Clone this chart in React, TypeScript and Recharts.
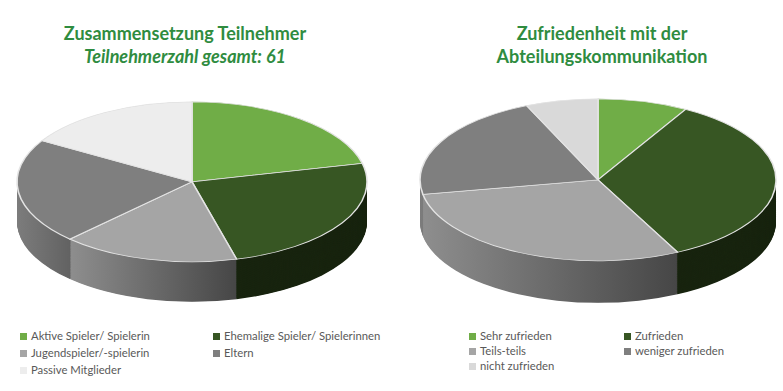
import { PieChart, Pie, Cell } from 'recharts';

const teilnehmerLabels = [
  'Aktive Spieler/ Spielerin',
  'Ehemalige Spieler/ Spielerinnen',
  'Jugendspieler/-spielerin',
  'Eltern',
  'Passive Mitglieder',
];
const teilnehmerValues = [13, 15, 10, 13, 10];
const teilnehmerColors = ['#70AD47', '#375623', '#A5A5A5', '#7F7F7F', '#EDEDED'];

const zufriedenLabels = [
  'Sehr zufrieden',
  'Zufrieden',
  'Teils-teils',
  'weniger zufrieden',
  'nicht zufrieden',
];
const zufriedenValues = [5, 21, 18, 13, 4];
const zufriedenColors = ['#70AD47', '#375623', '#A5A5A5', '#7F7F7F', '#D9D9D9'];

const TITLE_COLOR = '#2F8C3F';
const FONT = 'Lato, "Open Sans", sans-serif';

type PieProps = {
  id: string;
  labels: string[];
  values: number[];
  colors: string[];
  cx: number;
  cy: number;
  rx: number;
  ry: number;
  depth: number;
};

// fake excel 3d pie: stack darker copies below, squash vertically
function Pie3D({ id, labels, values, colors, cx, cy, rx, ry, depth }: PieProps) {
  const s = ry / rx;
  const R = rx;
  const cyU = R + 4;
  const depthU = depth / s;
  const width = 2 * R + 20;
  const chartCx = R + 10;
  const heightU = cyU + R + depthU + 8;
  const data = labels.map((name, i) => ({ name, value: values[i] }));

  const sideFills = [
    '#4E7A32',
    '#18240F',
    `url(#${id}-gray)`,
    `url(#${id}-dark)`,
    '#9a9a9a',
  ];

  const offsets: number[] = [];
  for (let d = depthU; d > 0; d -= 1.5) offsets.push(d);

  return (
    <div
      style={{
        position: 'absolute',
        left: cx - chartCx,
        top: cy - cyU * s,
        width,
        height: heightU,
        transform: `scaleY(${s})`,
        transformOrigin: '0 0',
      }}
    >
      <PieChart width={width} height={heightU} margin={{ top: 0, right: 0, bottom: 0, left: 0 }}>
        <defs>
          <linearGradient id={`${id}-gray`} x1="0" y1="0" x2="1" y2="0">
            <stop offset="0%" stopColor="#8E8E8E" />
            <stop offset="100%" stopColor="#464646" />
          </linearGradient>
          <linearGradient id={`${id}-dark`} x1="0" y1="0" x2="1" y2="0">
            <stop offset="0%" stopColor="#7C7C7C" />
            <stop offset="35%" stopColor="#5E5E5E" />
            <stop offset="100%" stopColor="#444444" />
          </linearGradient>
        </defs>
        {offsets.map((d) => (
          <Pie
            key={`side-${d}`}
            data={data}
            dataKey="value"
            cx={chartCx}
            cy={cyU + d}
            outerRadius={R}
            startAngle={90}
            endAngle={-270}
            stroke="none"
            isAnimationActive={false}
          >
            {data.map((entry, i) => (
              <Cell key={entry.name} fill={sideFills[i]} />
            ))}
          </Pie>
        ))}
        <Pie
          data={data}
          dataKey="value"
          cx={chartCx}
          cy={cyU}
          outerRadius={R}
          startAngle={90}
          endAngle={-270}
          stroke="#E4E4E4"
          strokeWidth={1.6}
          isAnimationActive={false}
        >
          {data.map((entry, i) => (
            <Cell key={entry.name} fill={colors[i]} />
          ))}
        </Pie>
      </PieChart>
    </div>
  );
}

function Legend({
  labels,
  colors,
  left,
  top,
  col2,
  rowGap,
}: {
  labels: string[];
  colors: string[];
  left: number;
  top: number;
  col2: number;
  rowGap: number;
}) {
  return (
    <>
      {labels.map((label, i) => (
        <div
          key={label}
          style={{
            position: 'absolute',
            left: left + (i % 2) * col2,
            top: top + Math.floor(i / 2) * rowGap,
            display: 'flex',
            alignItems: 'center',
            fontFamily: FONT,
            fontSize: 11.3,
            color: '#595959',
            whiteSpace: 'nowrap',
            lineHeight: '14px',
          }}
        >
          <span
            style={{
              display: 'inline-block',
              width: 7,
              height: 7,
              background: colors[i],
              marginRight: 4,
            }}
          />
          {label}
        </div>
      ))}
    </>
  );
}

export default function App() {
  const titleStyle = {
    position: 'absolute' as const,
    width: 370,
    textAlign: 'center' as const,
    fontFamily: FONT,
    fontWeight: 700,
    fontSize: 18,
    lineHeight: '23px',
    color: TITLE_COLOR,
  };
  return (
    <div
      style={{
        position: 'absolute',
        left: 0,
        top: 0,
        width: 783,
        height: 391,
        background: '#fff',
        overflow: 'hidden',
      }}
    >
      <div style={{ ...titleStyle, left: 0, top: 22 }}>
        <div>Zusammensetzung Teilnehmer</div>
        <div style={{ fontStyle: 'italic' }}>Teilnehmerzahl gesamt: 61</div>
      </div>
      <div style={{ ...titleStyle, left: 417, top: 22 }}>
        <div>Zufriedenheit mit der</div>
        <div>Abteilungskommunikation</div>
      </div>

      <Pie3D
        id="teil"
        labels={teilnehmerLabels}
        values={teilnehmerValues}
        colors={teilnehmerColors}
        cx={192}
        cy={182}
        rx={175}
        ry={80}
        depth={40}
      />
      <Pie3D
        id="zuf"
        labels={zufriedenLabels}
        values={zufriedenValues}
        colors={zufriedenColors}
        cx={598}
        cy={180}
        rx={178}
        ry={81}
        depth={42}
      />

      <Legend labels={teilnehmerLabels} colors={teilnehmerColors} left={20} top={329} col2={193} rowGap={17} />
      <Legend labels={zufriedenLabels} colors={zufriedenColors} left={469} top={329} col2={155} rowGap={15} />
    </div>
  );
}
